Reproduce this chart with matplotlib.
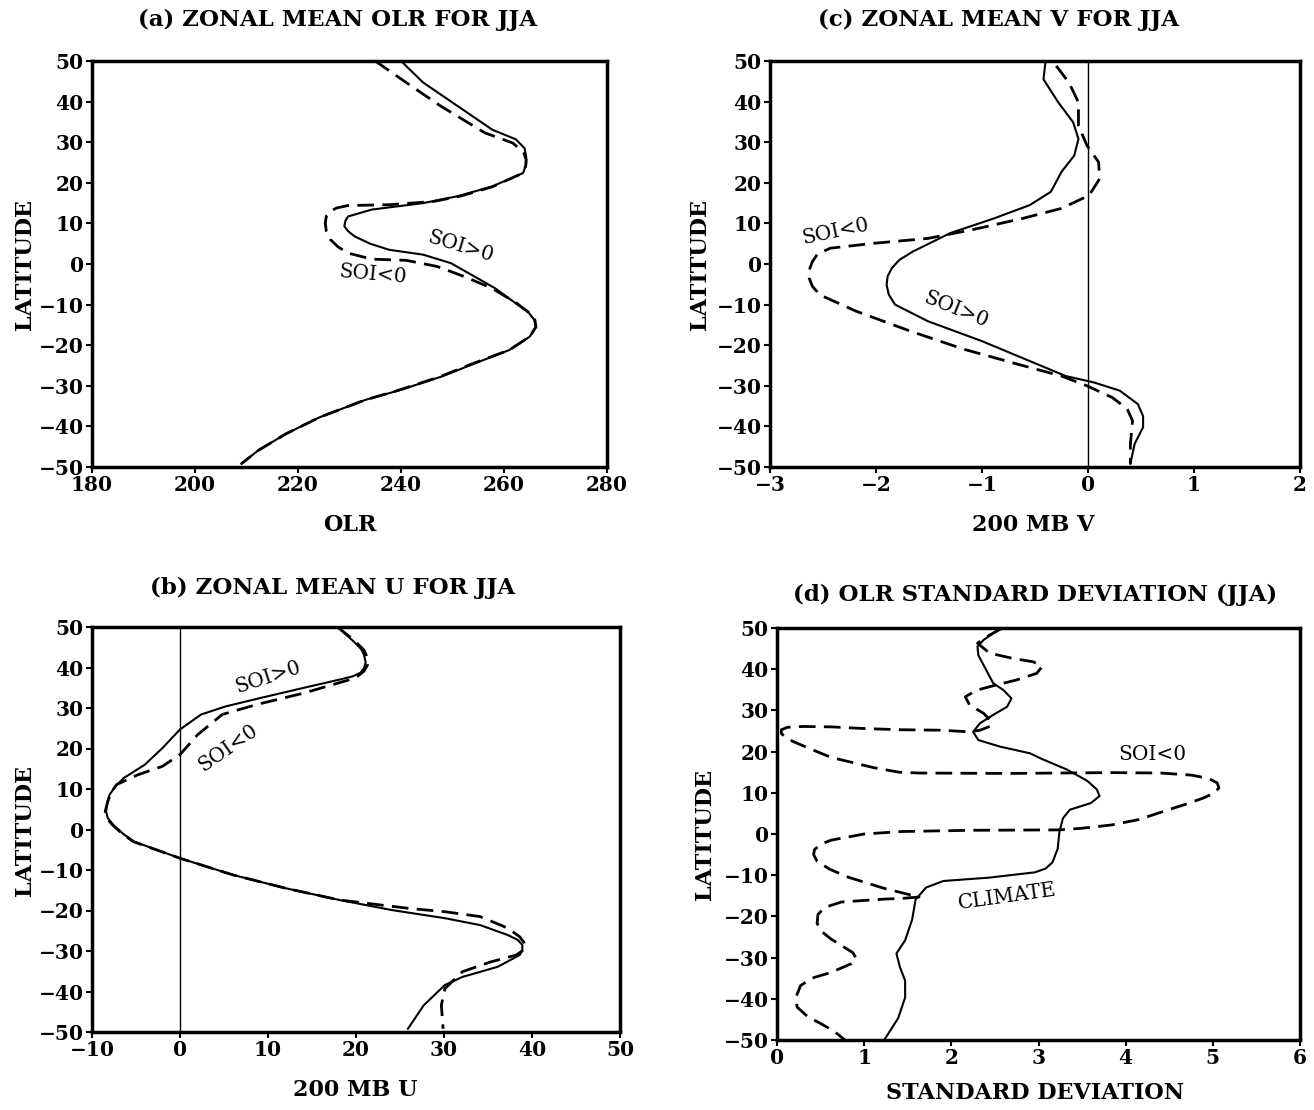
import matplotlib
matplotlib.use("Agg")
import matplotlib.pyplot as plt

# ---- (a) zonal mean OLR, JJA ----
olr_pos_lat = [50, 44.7, 38.9, 33.1, 30.7, 28.5, 26.5, 24.5, 22.4, 19.1, 16.7, 15, 13.4, 11.7, 10.6, 9.3,
               8, 6.8, 5, 3.5, 2.3, 0.2, -3.1, -6, -9.7, -12, -13.8, -15.5, -17.9, -21.2, -24.5,
               -27.8, -31.1, -33.5, -37.7, -41.8, -45.9, -49.2]
olr_pos = [240, 244.3, 251, 257.7, 262.3, 264, 264.3, 264.3, 263.7, 257.7, 251, 244.3, 234.3, 229.7, 229.2, 229,
           229.8, 231, 234, 237.7, 244.3, 249.7, 254.3, 258.3, 262.3, 264.8, 265.9, 266.2, 265, 261, 254.3,
           247.7, 239.7, 233, 224.3, 217.7, 212.3, 209]
olr_neg_lat = [50, 44.7, 38.9, 32.3, 29.8, 27.5, 25.7, 24, 22, 19, 16.7, 15.4, 14.6, 14.4, 13.8, 13, 11.8,
               10.1, 8, 6, 4.2, 2.7, 1.2, 0.9, -0.6, -3.1, -6, -9.7, -12, -13.8, -15.5, -17.9, -21.2,
               -24.5, -27.8, -31.1, -33.5, -37.7, -41.8, -45.9, -49.2]
olr_neg = [235, 241, 247.7, 256.3, 261.7, 263.8, 264.3, 264.2, 263, 257.7, 251.5, 246.3, 237.7, 229.7, 227.5, 226.3, 225.5,
           225.3, 225.5, 226.3, 227.8, 229.7, 234.3, 241, 247, 252.3, 257.7, 262.5, 264.9, 266, 266.2, 265, 261,
           254, 247.5, 239.5, 233, 224.3, 217.7, 212.3, 209]

# ---- (c) zonal mean 200mb V, JJA ----
v_pos_lat = [50, 45.5, 39.8, 34.9, 30.8, 26.7, 22.7, 17.8, 14.5, 11.2, 7.6, 3.1, 1, -1, -3, -5.1, -7.5, -10,
             -14.1, -19, -23.9, -27.6, -29.2, -31.2, -34.5, -37.5, -40.2, -44.3, -49.2]
v_pos = [-0.40, -0.42, -0.28, -0.14, -0.09, -0.13, -0.25, -0.35, -0.55, -0.89, -1.30, -1.65, -1.78, -1.85, -1.89, -1.90, -1.88, -1.82,
         -1.51, -1.0, -0.55, -0.21, 0.06, 0.30, 0.47, 0.52, 0.52, 0.44, 0.40]
v_neg_lat = [48.8, 44.7, 39.8, 34.1, 29.2, 25.1, 21, 16.9, 13.7, 11.2, 8.4, 6.3, 5.1, 3.9, 2.5, 0.6, -1.5, -3.5,
             -5.5, -7.6, -11.6, -16.5, -21, -24.7, -27.6, -30, -32.9, -35.7, -38.6, -44.3, -49.2]
v_neg = [-0.30, -0.18, -0.09, -0.09, -0.01, 0.10, 0.11, 0.01, -0.25, -0.62, -1.10, -1.51, -2.02, -2.43, -2.55, -2.60, -2.63, -2.63,
         -2.60, -2.53, -2.19, -1.68, -1.17, -0.66, -0.25, -0.01, 0.23, 0.37, 0.42, 0.40, 0.40]

# ---- (b) zonal mean 200mb U, JJA ----
u_pos_lat = [50, 46.5, 44.5, 43.2, 41.2, 39.8, 38.7, 37.8, 37, 35, 32.5, 30.4, 28.4, 24.7, 20.1, 16, 12.7, 10.5,
             8.6, 6.5, 4.5, 2.8, 1.2, -1, -3, -7.1, -11.2, -14.5, -17.4, -19.9, -21.9, -23.6, -26.1, -27.3,
             -28.5, -29.8, -31, -33.9, -36.4, -38.4, -43.4, -49.2]
u_pos = [17.9, 19.7, 20.6, 20.9, 21.1, 20.9, 20.5, 19.6, 18.1, 14.1, 9.2, 5.2, 2.4, 0, -2.0, -4.0, -6.4, -7.4,
         -8.0, -8.3, -8.4, -8.2, -7.6, -6.5, -5.2, 0, 6.0, 12.0, 18.1, 24.1, 30.1, 34.1, 37.3, 38.4,
         38.9, 38.9, 38.6, 36.1, 32.1, 30.1, 27.7, 25.9]
u_neg_lat = [50, 46.5, 44.3, 42.4, 40.6, 39.1, 38, 37, 33.7, 30.9, 28.4, 23.4, 18.5, 15.6, 13.5, 11.1, 8.9,
             6.9, 4.5, 2.8, 1.2, -1, -3, -7.1, -11.2, -14.5, -17.4, -19.5, -20.3, -21.5, -24.4, -26.5,
             -28.5, -29.8, -31, -32.7, -35.1, -39.3, -43.4, -49.2]
u_neg = [17.9, 19.9, 20.9, 21.3, 21.3, 20.9, 20.3, 19.3, 14.1, 8.8, 4.8, 2.0, 0, -2.0, -4.8, -7.2, -7.9,
         -8.2, -8.5, -8.3, -7.7, -6.6, -5.3, 0, 6.0, 12.0, 18.1, 26.1, 30.1, 34.1, 37.3, 38.6,
         39.3, 39.0, 38.2, 35.3, 32.1, 30.1, 29.7, 29.9]

# ---- (d) OLR standard deviation, JJA ----
sd_clim_lat = [49.9, 47.1, 45.5, 43.4, 40.2, 36.6, 34.9, 32.9, 30.9, 28.9, 26.9, 24.8, 22.8, 21.2, 19.6, 18.2,
               15.7, 12.9, 10.8, 9.2, 7.5, 5.9, 3.8, 0.5, -3.6, -6.9, -8.4, -9.3, -10.6, -11.4, -13, -15.9,
               -20.8, -25.8, -29, -32.3, -35.6, -39.7, -44.7, -50]
sd_clim = [2.56, 2.37, 2.30, 2.31, 2.39, 2.48, 2.60, 2.69, 2.64, 2.48, 2.33, 2.25, 2.31, 2.56, 2.90, 3.04,
           3.32, 3.56, 3.67, 3.70, 3.60, 3.36, 3.28, 3.24, 3.22, 3.16, 3.08, 2.96, 2.43, 1.91, 1.71, 1.59,
           1.55, 1.47, 1.37, 1.41, 1.47, 1.47, 1.39, 1.23]
sd_neg_lat = [49.9, 48.3, 46.3, 43.9, 42.6, 41.8, 40.6, 39, 37.4, 36.2, 34.9, 33.3, 31.3, 29.3, 27.3, 26.1,
              25.2, 24.8, 25.2, 25.3, 25.6, 26.0, 26.1, 25.9, 25.3, 24.4, 23.4, 22.5, 20.5, 18.6, 16.1,
              15.0, 14.8, 14.7, 14.9, 14.8, 14.3, 13.5, 12.4, 11.2, 10.0, 8.8, 7.3, 5.6, 3.5, 2.2, 1.4,
              1.0, 0.9, 0.6, 0.0, -1.5, -2.5, -3.8, -5.0, -6.6, -8.5, -10.5, -13.2, -15.3, -15.6, -15.8,
              -16.5, -17.8, -19.5, -21.7, -23.8, -25.5, -28.8, -30.2, -31.5, -33.6, -35.0, -36.8, -39.5,
              -42.0, -44.3, -46.0, -47.8, -50]
sd_neg = [2.58, 2.44, 2.30, 2.44, 2.71, 2.94, 3.04, 2.98, 2.75, 2.52, 2.29, 2.16, 2.21, 2.37, 2.46, 2.44,
          2.33, 2.21, 1.87, 1.43, 1.0, 0.62, 0.30, 0.12, 0.05, 0.05, 0.10, 0.18, 0.40, 0.62, 1.11,
          1.40, 1.63, 2.64, 3.84, 4.40, 4.75, 4.95, 5.05, 5.07, 5.02, 4.90, 4.70, 4.45, 4.15, 3.84, 3.50,
          3.24, 2.23, 1.43, 1.0, 0.62, 0.50, 0.43, 0.42, 0.46, 0.60, 0.82, 1.23, 1.63, 1.45, 1.23,
          0.74, 0.55, 0.47, 0.46, 0.52, 0.62, 0.87, 0.91, 0.85, 0.62, 0.40, 0.27, 0.22,
          0.23, 0.35, 0.50, 0.65, 0.78]

BOLD = dict(family="DejaVu Serif", fontweight="bold")
DASH = (0, (6, 3))


def style_axes(ax, xlim, xticks):
    ax.set_xlim(*xlim)
    ax.set_ylim(-50, 50)
    ax.set_xticks(xticks)
    ax.set_yticks(range(-50, 51, 10))
    for s in ax.spines.values():
        s.set_linewidth(2.5)
    ax.tick_params(direction="out", length=4, width=1.5, pad=2, labelsize=14.5)
    for lab in ax.get_xticklabels() + ax.get_yticklabels():
        lab.set_fontfamily("DejaVu Serif")
        lab.set_fontweight("bold")


fig = plt.figure(figsize=(13.14, 11.10), dpi=100)
W, H = 1314, 1110


def add_ax(left, right, top, bottom):
    return fig.add_axes([left / W, 1 - bottom / H, (right - left) / W, (bottom - top) / H])


# (a)
ax = add_ax(92, 607, 61, 467)
ax.plot(olr_pos, olr_pos_lat, color="black", lw=1.5)
ax.plot(olr_neg, olr_neg_lat, color="black", lw=2, linestyle=DASH)
style_axes(ax, (180, 280), range(180, 281, 20))
ax.text(251.5, 4.3, "SOI>0", family="DejaVu Serif", fontsize=14.5, rotation=-17, ha="center", va="center")
ax.text(234.5, -2.5, "SOI<0", family="DejaVu Serif", fontsize=14.5, rotation=-5, ha="center", va="center")
fig.text(338 / W, 1 - 20 / H, "(a) ZONAL MEAN OLR FOR JJA", fontsize=16.5, ha="center", va="center", **BOLD)
fig.text(350 / W, 1 - 525 / H, "OLR", fontsize=16, ha="center", va="center", **BOLD)
fig.text(25 / W, 1 - 264 / H, "LATITUDE", fontsize=16, rotation=90, ha="center", va="center", **BOLD)

# (c)
ax = add_ax(770, 1300, 61, 467)
ax.axvline(0, color="black", lw=1)
ax.plot(v_pos, v_pos_lat, color="black", lw=1.5)
ax.plot(v_neg, v_neg_lat, color="black", lw=2, linestyle=DASH)
style_axes(ax, (-3, 2), range(-3, 3))
ax.text(-2.38, 8, "SOI<0", family="DejaVu Serif", fontsize=14.5, rotation=12, ha="center", va="center")
ax.text(-1.25, -11.2, "SOI>0", family="DejaVu Serif", fontsize=14.5, rotation=-22, ha="center", va="center")
fig.text(998 / W, 1 - 20 / H, "(c) ZONAL MEAN V FOR JJA", fontsize=16.5, ha="center", va="center", **BOLD)
fig.text(1033 / W, 1 - 525 / H, "200 MB V", fontsize=16, ha="center", va="center", **BOLD)
fig.text(700 / W, 1 - 264 / H, "LATITUDE", fontsize=16, rotation=90, ha="center", va="center", **BOLD)

# (b)
ax = add_ax(92, 620, 627, 1032)
ax.axvline(0, color="black", lw=1)
ax.plot(u_pos, u_pos_lat, color="black", lw=1.5)
ax.plot(u_neg, u_neg_lat, color="black", lw=2, linestyle=DASH)
style_axes(ax, (-10, 50), range(-10, 51, 10))
ax.text(10, 37.5, "SOI>0", family="DejaVu Serif", fontsize=14.5, rotation=18, ha="center", va="center")
ax.text(5.4, 20.1, "SOI<0", family="DejaVu Serif", fontsize=14.5, rotation=35, ha="center", va="center")
fig.text(333 / W, 1 - 588 / H, "(b) ZONAL MEAN U FOR JJA", fontsize=16.5, ha="center", va="center", **BOLD)
fig.text(355 / W, 1 - 1090 / H, "200 MB U", fontsize=16, ha="center", va="center", **BOLD)
fig.text(25 / W, 1 - 830 / H, "LATITUDE", fontsize=16, rotation=90, ha="center", va="center", **BOLD)

# (d)
ax = add_ax(777, 1300, 628, 1040)
ax.plot(sd_clim, sd_clim_lat, color="black", lw=1.5)
ax.plot(sd_neg, sd_neg_lat, color="black", lw=2, linestyle=DASH)
style_axes(ax, (0, 6), range(0, 7))
ax.text(4.31, 19.4, "SOI<0", family="DejaVu Serif", fontsize=14.5, ha="center", va="center")
ax.text(2.64, -15.1, "CLIMATE", family="DejaVu Serif", fontsize=14.5, rotation=8, ha="center", va="center")
fig.text(1035 / W, 1 - 595 / H, "(d) OLR STANDARD DEVIATION (JJA)", fontsize=16.5, ha="center", va="center", **BOLD)
fig.text(1035 / W, 1 - 1093 / H, "STANDARD DEVIATION", fontsize=16, ha="center", va="center", **BOLD)
fig.text(705 / W, 1 - 835 / H, "LATITUDE", fontsize=16, rotation=90, ha="center", va="center", **BOLD)

fig.savefig("out.png", dpi=100, facecolor="white")
